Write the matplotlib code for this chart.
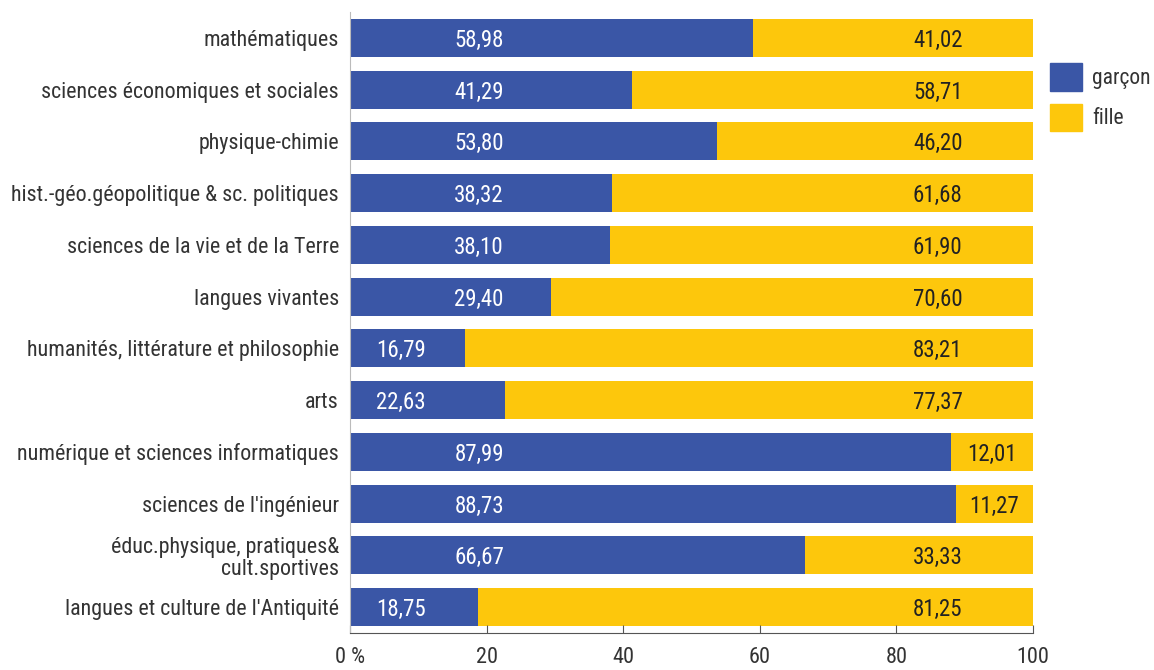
import matplotlib.pyplot as plt
from matplotlib.patches import Patch

categories = ["mathématiques", "sciences économiques et sociales", "physique-chimie",
              "hist.-géo.géopolitique & sc. politiques", "sciences de la vie et de la Terre",
              "langues vivantes", "humanités, littérature et philosophie", "arts",
              "numérique et sciences informatiques", "sciences de l'ingénieur",
              "éduc.physique, pratiques&\ncult.sportives", "langues et culture de l'Antiquité"]
garcon = [58.98, 41.29, 53.80, 38.32, 38.10, 29.40, 16.79, 22.63, 87.99, 88.73, 66.67, 18.75]
fille = [41.02, 58.71, 46.20, 61.68, 61.90, 70.60, 83.21, 77.37, 12.01, 11.27, 33.33, 81.25]
ticks = [0, 20, 40, 60, 80, 100]
tick_labels = ["0 %", "20", "40", "60", "80", "100"]

blue = "#3a56a6"
yellow = "#fdc70c"
txt = "#333333"

plt.rcParams['font.family'] = ['Roboto Condensed', 'Liberation Sans Narrow', 'Roboto', 'DejaVu Sans']

fig = plt.figure(figsize=(11.54, 6.70), dpi=100)
ax = fig.add_axes([350/1154, 1 - 633/670, (1033-350)/1154, (633-12)/670])

y = list(range(len(categories)))
ax.barh(y, garcon, height=0.73, color=blue)
ax.barh(y, fille, left=garcon, height=0.73, color=yellow)

# value labels, comma decimals; positions follow the original layout
for i in y:
    g = garcon[i]
    f = fille[i]
    gx = 18.9 if g > 25 else 7.5
    fx = max(100 - f / 2, 86.05)
    ax.text(gx, i + 0.05, f"{g:.2f}".replace(".", ","), color="white", fontsize=16.5,
            ha="center", va="center")
    ax.text(fx, i + 0.05, f"{f:.2f}".replace(".", ","), color="#222222", fontsize=16.5,
            ha="center", va="center")

ax.set_xlim(0, 100)
ax.set_ylim(11.5, -0.5)
ax.set_yticks(y)
ax.set_yticklabels(categories, fontsize=15.8, color=txt, linespacing=1.05)
ax.tick_params(axis="y", length=0, pad=8)
ax.set_xticks(ticks)
ax.set_xticklabels(tick_labels, fontsize=16, color=txt)
ax.tick_params(axis="x", direction="in", length=6, color="#555555", pad=10)

for s in ["top", "right"]:
    ax.spines[s].set_visible(False)
ax.spines["left"].set_color("#bbbbbb")
ax.spines["bottom"].set_color("#555555")

handles = [Patch(color=blue, label="garçon"), Patch(color=yellow, label="fille")]
fig.legend(handles=handles, loc="upper left", bbox_to_anchor=(1050/1154, 1 - 63/670),
           frameon=False, fontsize=15.5, handlelength=1.5, handleheight=1.6,
           labelcolor=txt, handletextpad=0.45, labelspacing=0.6, borderaxespad=0,
           borderpad=0)

plt.savefig("out.png")
